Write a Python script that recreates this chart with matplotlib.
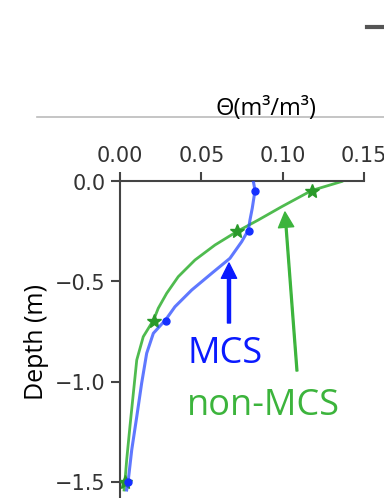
import numpy as np
import matplotlib
matplotlib.use("Agg")
import matplotlib.pyplot as plt
from matplotlib.lines import Line2D

# measured points (markers)
depth_pts = [-0.05, -0.25, -0.70, -1.50]
mcs_pts = [0.083, 0.079, 0.028, 0.005]
nonmcs_pts = [0.118, 0.072, 0.021, 0.003]

# simulated profiles (lines)
mcs_depth = [0.0, -0.045, -0.134, -0.1925, -0.2425, -0.301, -0.384, -0.459, -0.5425,
             -0.626, -0.69, -0.759, -0.859, -1.009, -1.176, -1.3425, -1.4925, -1.5425]
mcs_theta = [0.0820, 0.0830, 0.0813, 0.0799, 0.0789, 0.0748, 0.0676, 0.0564, 0.0441,
             0.0338, 0.0282, 0.0205, 0.0164, 0.0133, 0.0103, 0.0072, 0.0051, 0.0041]
non_depth = [0.0, -0.045, -0.126, -0.1925, -0.251, -0.3175, -0.3925, -0.476, -0.559,
             -0.634, -0.69, -0.776, -0.8925, -1.059, -1.226, -1.3925, -1.4925, -1.5425]
non_theta = [0.1363, 0.1178, 0.0994, 0.0850, 0.0717, 0.0584, 0.0461, 0.0358, 0.0287,
             0.0235, 0.0208, 0.0143, 0.0103, 0.0082, 0.0061, 0.0041, 0.0031, 0.0025]

xticks = [0.00, 0.05, 0.10, 0.15]
yticks = [0.0, -0.5, -1.0, -1.5]

W, H = 384, 498
fig = plt.figure(figsize=(W / 100, H / 100), dpi=100)
ax = fig.add_axes([120 / W, (H - 181.5 - 320) / H, 244 / W, 320 / H])

blue = "#2a4bff"
green = "#3cb43c"

ax.plot(non_theta, non_depth, color=green, lw=2, alpha=0.9, zorder=2,
        solid_joinstyle="round")
ax.plot(nonmcs_pts, depth_pts, ls="none", marker="*", ms=10, color="#2a9a2a", zorder=3)
ax.plot(mcs_theta, mcs_depth, color=blue, lw=2.2, alpha=0.75, zorder=4,
        solid_joinstyle="round")
ax.plot(mcs_pts, depth_pts, ls="none", marker="o", ms=5, color="#1530ff", zorder=5)

ax.set_xlim(0, 0.15)
ax.set_ylim(-1.6, 0)
ax.xaxis.tick_top()
ax.set_xticks(xticks)
ax.set_xticklabels([f"{v:.2f}" for v in xticks])
ax.set_yticks(yticks)
ax.set_yticklabels([f"{v:.1f}".replace("-", "\u2212") for v in yticks])
for s in ["right", "bottom"]:
    ax.spines[s].set_visible(False)
for s in ["left", "top"]:
    ax.spines[s].set_linewidth(1.5)
    ax.spines[s].set_color("#444444")
ax.tick_params(axis="x", length=6.5, width=1.5, color="#444444", labelsize=15,
               labelcolor="#333333", pad=5)
ax.tick_params(axis="y", length=6.5, width=1.5, color="#444444", labelsize=15,
               labelcolor="#333333", pad=4)

ax.set_ylabel("Depth (m)", family="Open Sans", fontsize=18, labelpad=4)

# annotations
ax.annotate("", xy=(0.067, -0.4075), xytext=(0.067, -0.7075),
            arrowprops=dict(color="#0a1aff", width=2.2, headwidth=11, headlength=11, shrink=0))
ax.annotate("", xy=(0.1014, -0.1525), xytext=(0.1088, -0.9475),
            arrowprops=dict(color=green, width=1.3, headwidth=11, headlength=11, shrink=0))
ax.text(0.0412, -0.9075, "MCS", color="#0a1aff", family="Open Sans", fontsize=26,
        ha="left", va="baseline")
ax.text(0.0412, -1.1675, "non-MCS", color=green, family="Open Sans", fontsize=26,
        ha="left", va="baseline")

# header text and separator
fig.text(266 / W, 1 - 115 / H, "\u0398(m\u00b3/m\u00b3)", family="Open Sans", fontsize=17,
         ha="center", va="baseline")
fig.add_artist(Line2D([37 / W, 1], [1 - 117 / H] * 2, color="#bbbbbb", lw=1.2))
fig.add_artist(Line2D([367 / W, 1], [1 - 27 / H] * 2, color="#555555", lw=3))

fig.savefig("out.png", dpi=100)
